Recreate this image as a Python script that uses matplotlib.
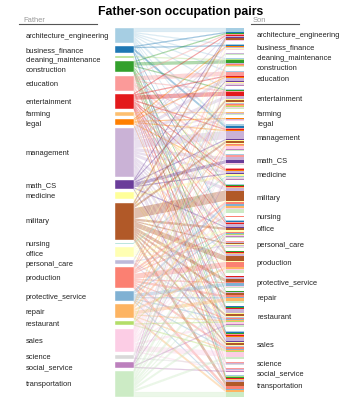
# Father-son occupation pairs: parallel sets style chart
import matplotlib.pyplot as plt

occupations = ["architecture_engineering", "business_finance", "cleaning_maintenance",
               "construction", "education", "entertainment", "farming", "legal",
               "management", "math_CS", "medicine", "military", "nursing", "office",
               "personal_care", "production", "protective_service", "repair",
               "restaurant", "sales", "science", "social_service", "transportation"]

# d3 schemePaired + schemeSet3
colors = ['#a6cee3', '#1f78b4', '#b2df8a', '#33a02c', '#fb9a99', '#e31a1c', '#fdbf6f',
          '#ff7f00', '#cab2d6', '#6a3d9a', '#ffff99', '#b15928', '#8dd3c7', '#ffffb3',
          '#bebada', '#fb8072', '#80b1d3', '#fdb462', '#b3de69', '#fccde5', '#d9d9d9',
          '#bc80bd', '#ccebc5']

# father -> {son: number of pairs}
flows = {
    "architecture_engineering": {"architecture_engineering": 4, "business_finance": 1, "construction": 1,
                                 "education": 1, "entertainment": 1, "management": 2, "math_CS": 1,
                                 "military": 1, "office": 1, "sales": 1, "transportation": 1},
    "business_finance": {"architecture_engineering": 1, "business_finance": 1, "management": 2,
                         "office": 1, "restaurant": 1, "sales": 1},
    "cleaning_maintenance": {"construction": 1, "transportation": 1},
    "construction": {"architecture_engineering": 1, "construction": 3, "entertainment": 1, "military": 1,
                     "production": 1, "repair": 1, "restaurant": 1, "sales": 1, "transportation": 1},
    "education": {"architecture_engineering": 1, "education": 4, "entertainment": 1, "management": 1,
                  "math_CS": 2, "medicine": 1, "office": 1, "personal_care": 1,
                  "sales": 1, "science": 1, "social_service": 1},
    "entertainment": {"architecture_engineering": 1, "education": 1, "entertainment": 4, "management": 1,
                      "medicine": 1, "military": 1, "office": 1, "production": 1,
                      "protective_service": 1, "restaurant": 1, "sales": 1, "transportation": 1},
    "farming": {"farming": 1, "military": 1, "production": 1, "transportation": 1},
    "legal": {"business_finance": 1, "education": 1, "legal": 1, "management": 1, "medicine": 1,
              "sales": 1},
    "management": {"architecture_engineering": 1, "business_finance": 1, "cleaning_maintenance": 1,
                   "construction": 1, "education": 3, "entertainment": 3, "farming": 1, "legal": 1,
                   "management": 8, "math_CS": 3, "medicine": 2, "military": 3, "office": 3,
                   "personal_care": 1, "production": 2, "protective_service": 2, "repair": 1,
                   "restaurant": 4, "sales": 4, "science": 1, "social_service": 1, "transportation": 2},
    "math_CS": {"architecture_engineering": 1, "education": 1, "management": 1, "math_CS": 3,
                "medicine": 1, "office": 1, "sales": 1},
    "medicine": {"education": 1, "entertainment": 1, "management": 1, "medicine": 2, "restaurant": 1,
                 "sales": 1},
    "military": {"architecture_engineering": 2, "entertainment": 2, "management": 2, "military": 10,
                 "office": 2, "personal_care": 1, "production": 5, "protective_service": 3,
                 "repair": 2, "restaurant": 2, "sales": 2, "transportation": 4},
    "nursing": {"medicine": 1},
    "office": {"business_finance": 1, "entertainment": 1, "management": 1, "military": 1, "office": 2,
               "personal_care": 1, "production": 1, "restaurant": 1, "sales": 1},
    "personal_care": {"entertainment": 1, "personal_care": 1, "restaurant": 1, "sales": 1},
    "production": {"construction": 1, "entertainment": 1, "management": 1, "military": 2, "nursing": 1,
                   "office": 1, "production": 5, "protective_service": 1, "repair": 2,
                   "restaurant": 1, "sales": 2, "transportation": 3},
    "protective_service": {"military": 2, "office": 1, "protective_service": 3, "repair": 1,
                           "restaurant": 1, "sales": 1, "transportation": 1},
    "repair": {"construction": 1, "entertainment": 1, "management": 1, "military": 2,
               "production": 2, "repair": 3, "restaurant": 1, "sales": 1, "transportation": 2},
    "restaurant": {"entertainment": 1, "office": 1, "restaurant": 1, "sales": 1},
    "sales": {"architecture_engineering": 1, "business_finance": 1, "education": 1, "entertainment": 1,
              "legal": 1, "management": 3, "math_CS": 1, "medicine": 1, "military": 1, "office": 1,
              "personal_care": 1, "production": 1, "protective_service": 1, "restaurant": 2,
              "sales": 5, "social_service": 1},
    "science": {"education": 1, "math_CS": 1, "medicine": 1, "science": 1},
    "social_service": {"education": 1, "management": 1, "medicine": 1, "office": 1, "restaurant": 1,
                       "social_service": 1},
    "transportation": {"cleaning_maintenance": 1, "construction": 1, "entertainment": 1, "farming": 1,
                       "management": 1, "military": 4, "office": 1, "personal_care": 1, "production": 3,
                       "protective_service": 1, "repair": 2, "restaurant": 2, "sales": 2,
                       "transportation": 5},
}

n = len(occupations)
idx = {o: i for i, o in enumerate(occupations)}
pairs = [(f, s, c) for f, row in flows.items() for s, c in row.items()]

# totals per node
father_tot = [0] * n
son_tot = [0] * n
for f, s, c in pairs:
    father_tot[idx[f]] += c
    son_tot[idx[s]] += c
total = sum(father_tot)

# layout in pixel units
top, bottom = 29, 398
unit = 1.0
gap = (bottom - top - total * unit) / (n - 1)
xl0, xl1 = 115, 133.5      # father bars
xr0, xr1 = 225.7, 244.3    # son bars


def node_starts(tot):
    ys = []
    y = top
    for t in tot:
        ys.append(y)
        y += t * unit + gap
    return ys


fy = node_starts(father_tot)
sy = node_starts(son_tot)

fig = plt.figure(figsize=(3.63, 4.10), dpi=100)
ax = fig.add_axes([0, 0, 1, 1])
ax.set_xlim(0, 363)
ax.set_ylim(410, 0)
ax.axis('off')

# outgoing links ordered by son, incoming ordered by father
out_pos = list(fy)
in_pos = list(sy)
link_left = {}
for f, s, c in sorted(pairs, key=lambda p: (idx[p[0]], idx[p[1]])):
    link_left[(f, s)] = out_pos[idx[f]]
    out_pos[idx[f]] += c * unit
link_right = {}
for f, s, c in sorted(pairs, key=lambda p: (idx[p[1]], idx[p[0]])):
    link_right[(f, s)] = in_pos[idx[s]]
    in_pos[idx[s]] += c * unit

for f, s, c in pairs:
    h = c * unit
    y0 = link_left[(f, s)]
    y1 = link_right[(f, s)]
    ax.fill([xl1, xr0, xr0, xl1], [y0, y1, y1 + h, y0 + h],
            color=colors[idx[f]], alpha=0.38, lw=0.15)

# son bars: stacked father colours
for f, s, c in pairs:
    y1 = link_right[(f, s)]
    ax.add_patch(plt.Rectangle((xr0, y1), xr1 - xr0, c * unit,
                               facecolor=colors[idx[f]], edgecolor='none'))

# father bars
for i in range(n):
    ax.add_patch(plt.Rectangle((xl0, fy[i]), xl1 - xl0, father_tot[i] * unit,
                               facecolor=colors[i], edgecolor='white', lw=0.3))

font = 'Liberation Sans'


def place_labels(starts, tot):
    ys = []
    prev = -100
    for y, t in zip(starts, tot):
        c = max(y + t * unit / 2, prev + 10)
        ys.append(c)
        prev = c
    return ys


for name, y in zip(occupations, place_labels(fy, father_tot)):
    ax.text(26, y, name, fontsize=5.4, family=font, va='center', ha='left', color='#222222')
for name, y in zip(occupations, place_labels(sy, son_tot)):
    ax.text(257, y, name, fontsize=5.4, family=font, va='center', ha='left', color='#222222')

# column headers
ax.text(23, 20, "Father", fontsize=5.4, family=font, color='#999999', va='center')
ax.plot([19, 97], [24.5, 24.5], color='#555555', lw=0.8)
ax.text(253, 20, "Son", fontsize=5.4, family=font, color='#999999', va='center')
ax.plot([251, 299], [25, 25], color='#555555', lw=0.8)

ax.text(181, 12, "Father-son occupation pairs", fontsize=8.8, family=font,
        fontweight='bold', ha='center', va='center')

fig.savefig('out.png', dpi=100)
